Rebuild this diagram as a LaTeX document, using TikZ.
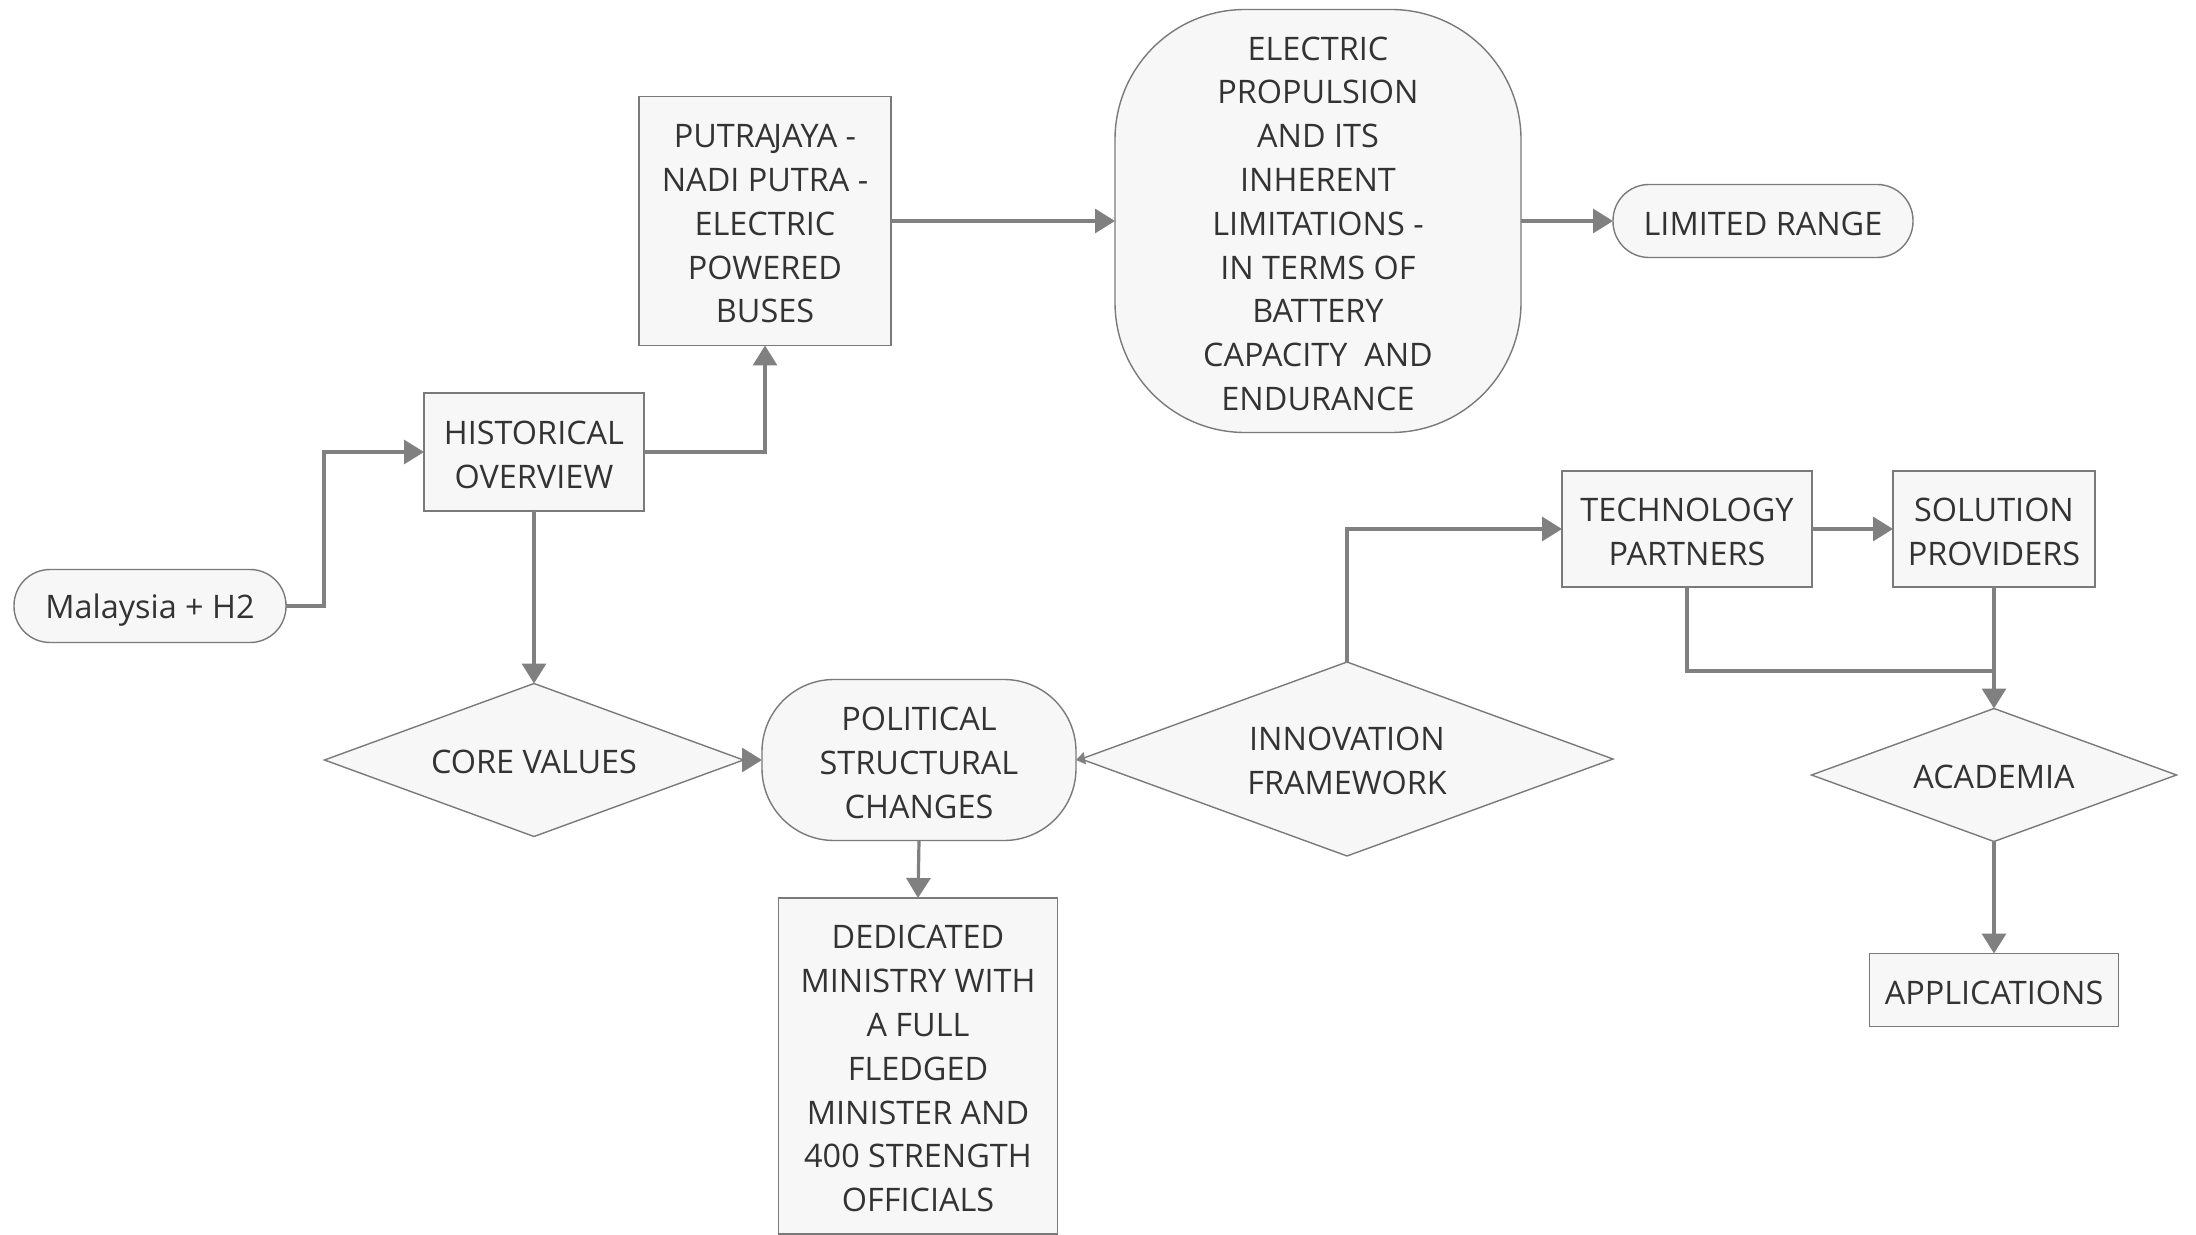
\documentclass[tikz,border=0pt]{standalone}
\usepackage{fontspec}
\setmainfont{Open Sans}
\usetikzlibrary{arrows.meta,shapes.geometric}
\definecolor{txt}{HTML}{333333}
\definecolor{fillc}{HTML}{F7F7F7}
\definecolor{edgec}{HTML}{7A7A7A}
\definecolor{arr}{HTML}{808080}
\newcommand{\zt}[1]{\smash{\makebox[0pt]{\raisebox{-6.5pt}{\begin{tabular}{@{}c@{}}#1\end{tabular}}}}}
\newcommand{\lowered}[2]{\smash{\raisebox{-#1}{#2}}}
\newcommand{\tp}{\rule{0pt}{14.4pt}}
\begin{document}
\begin{tikzpicture}[x=0.5pt,y=-0.5pt,
  base/.style={draw=edgec, line width=0.7pt, fill=fillc, text=txt,
    font=\fontsize{16.2}{21.9}\selectfont, align=center, inner sep=0pt, outer sep=0pt},
  rectbox/.style={base, rectangle},
  pill/.style={base, rectangle, rounded corners=18pt},
  dia/.style={base, diamond},
  conn/.style={draw=arr, line width=1.6pt, -{Triangle[length=10pt,width=12pt]}},
  plain/.style={draw=arr, line width=1.6pt}
]
\useasboundingbox (0,0) rectangle (2196,1235);

\node[pill, minimum width=136pt, minimum height=36.5pt] (mal) at (150,606) {\lowered{6.2pt}{Malaysia + H2}};
\node[rectbox, minimum width=110pt, minimum height=59pt] (hist) at (534,452) {\tp HISTORICAL\\OVERVIEW};
\node[rectbox, minimum width=126pt, minimum height=124.5pt] (put) at (765,221) {\tp PUTRA\kern-1pt JAYA -\\NADI PUTRA -\\ELECTRIC\\POWERED\\BUSES};
\node[base, rectangle, rounded corners=65pt, minimum width=203pt, minimum height=211.5pt] (elec) at (1318,221)
  {\tp ELECTRIC\\PROPULSION\\AND ITS\\INHERENT\\LIMITATIONS -\\IN TERMS OF\\BATTERY\\CAPACITY\ \ AND\\ENDURANCE};
\node[pill, minimum width=150pt, minimum height=36.5pt] (lim) at (1763,221) {\lowered{7.2pt}{LIMITED RANGE}};
\node[dia, minimum width=209.5pt, minimum height=76.5pt] (core) at (534,760) {\zt{CORE VALUES}};
\node[base, rectangle, rounded corners=36pt, minimum width=157pt, minimum height=80.5pt] (pol) at (919,760) {\tp POLITICAL\\STRUCTURAL\\CHANGES};
\node[rectbox, minimum width=139.5pt, minimum height=168pt] (ded) at (918,1066)
  {\tp DEDICATED\\MINISTRY WITH\\A FULL\\FLEDGED\\MINISTER AND\\400 STRENGTH\\OFFICIALS};
\node[dia, minimum width=266pt, minimum height=97pt] (inn) at (1347,759) {\zt{INNOVATION\\FRAMEWORK}};
\node[rectbox, minimum width=125pt, minimum height=58pt] (tech) at (1687,529) {\tp TECHNOLOGY\\PARTNERS};
\node[rectbox, minimum width=101pt, minimum height=58pt] (sol) at (1994,529) {\tp SOLUTION\\PROVIDERS};
\node[dia, minimum width=182.5pt, minimum height=66.5pt] (acad) at (1994,775) {\zt{ACADEMIA}};
\node[rectbox, minimum width=124.5pt, minimum height=36.5pt] (app) at (1994,990) {\lowered{7.2pt}{APPLICATIONS}};

\coordinate (join) at (1994,671);

\draw[conn] (mal.east) -- ++(38,0) |- (hist.west);
\draw[conn] (hist.east) -| (put.south);
\draw[conn] (hist.south) -- (core.north);
\draw[conn] (put.east) -- (elec.west);
\draw[conn] (elec.east) -- (lim.west);
\draw[conn] (core.east) -- (pol.west);
\draw[draw=arr, line width=1.6pt, -{Triangle[length=4.5pt,width=6pt]}] (inn.west) -- (pol.east);
\draw[conn] (pol.south) -- (ded.north);
\draw[conn] (inn.north) |- (tech.west);
\draw[conn] (tech.east) -- (sol.west);
\draw[plain] (tech.south) |- (join);
\draw[conn] (sol.south) -- (acad.north);
\draw[conn] (acad.south) -- (app.north);
\end{tikzpicture}
\end{document}
